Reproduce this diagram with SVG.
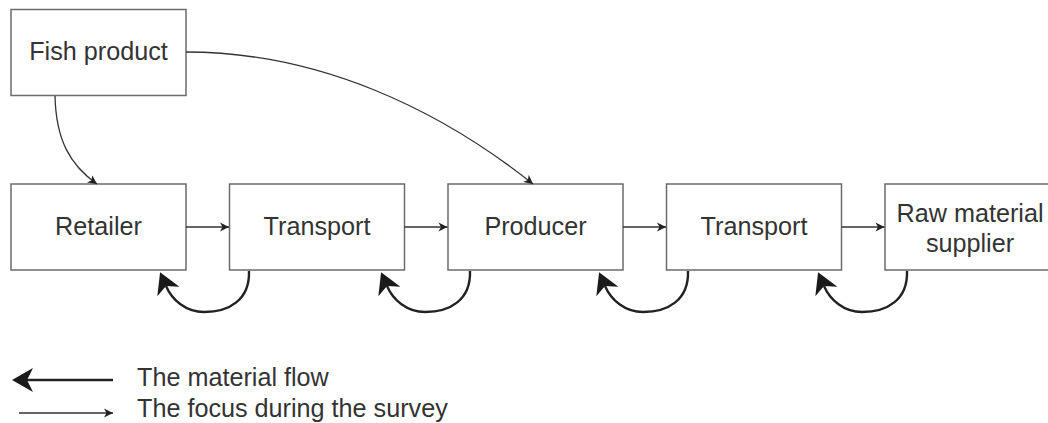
<svg xmlns="http://www.w3.org/2000/svg" width="1048" height="423" viewBox="0 0 1048 423">
<style>
.box{fill:#fff;stroke:#6b6b6b;stroke-width:1.5}
.lbl{font-family:"Liberation Sans",Arial,sans-serif;font-size:25.2px;fill:#333;text-anchor:middle}
.leg{font-family:"Liberation Sans",Arial,sans-serif;font-size:25.2px;fill:#333}
.thin{fill:none;stroke:#333;stroke-width:1.3}
.thick{fill:none;stroke:#222;stroke-width:2.4}
</style>
<defs>
<marker id="sm" markerUnits="userSpaceOnUse" viewBox="-10 -6 12 12" refX="0" refY="0" markerWidth="12" markerHeight="12" orient="auto">
<path d="M0,0 L-9,-4.5 L-6.5,0 L-9,4.5 Z" fill="#222"/>
</marker>
<marker id="big" markerUnits="userSpaceOnUse" viewBox="-23 -14 26 28" refX="-15" refY="0" markerWidth="26" markerHeight="28" orient="auto">
<path d="M0,0 L-21,-12 L-15,0 L-21,12 Z" fill="#1a1a1a"/>
</marker>
</defs>
<g id="fish"><rect class="box" x="11" y="9.5" width="175" height="86"/><text class="lbl" x="98.5" y="60">Fish product</text></g>
<g id="retailer"><rect class="box" x="11" y="184" width="175" height="86"/><text class="lbl" x="98.5" y="235">Retailer</text></g>
<g id="transport1"><rect class="box" x="229.5" y="184" width="175" height="86"/><text class="lbl" x="317" y="235">Transport</text></g>
<g id="producer"><rect class="box" x="448" y="184" width="175" height="86"/><text class="lbl" x="535.5" y="235">Producer</text></g>
<g id="transport2"><rect class="box" x="666.5" y="184" width="175" height="86"/><text class="lbl" x="754" y="235">Transport</text></g>
<g id="supplier"><rect class="box" x="885" y="184" width="175" height="86"/><text class="lbl" x="970" y="222">Raw material</text><text class="lbl" x="970" y="252">supplier</text></g>
<g id="connectors">
<path class="thin" marker-end="url(#sm)" d="M55,96 C56,140 70,165 97,184"/>
<path class="thin" marker-end="url(#sm)" d="M186,52 C320,52 440,110 533,184"/>
<path class="thin" marker-end="url(#sm)" d="M186,227 H229"/>
<path class="thin" marker-end="url(#sm)" d="M404.5,227 H447.5"/>
<path class="thin" marker-end="url(#sm)" d="M623,227 H666"/>
<path class="thin" marker-end="url(#sm)" d="M841.5,227 H884.5"/>
<path class="thick" marker-end="url(#big)" d="M249,271 C250,300 229,312 204,312 C186,312 172,300 166,286"/>
<path class="thick" marker-end="url(#big)" d="M470,271 C471,300 450,312 425,312 C407,312 393,300 387,286"/>
<path class="thick" marker-end="url(#big)" d="M688,271 C689,300 668,312 643,312 C625,312 611,300 605,286"/>
<path class="thick" marker-end="url(#big)" d="M907,271 C908,300 887,312 862,312 C844,312 830,300 824,286"/>
</g>
<g id="legend">
<path class="thick" stroke-width="3" marker-end="url(#big)" d="M113,380 H27"/>
<text class="leg" x="137" y="386">The material flow</text>
<path class="thin" marker-end="url(#sm)" d="M19,413 H113"/>
<text class="leg" x="137" y="417">The focus during the survey</text>
</g>
</svg>
